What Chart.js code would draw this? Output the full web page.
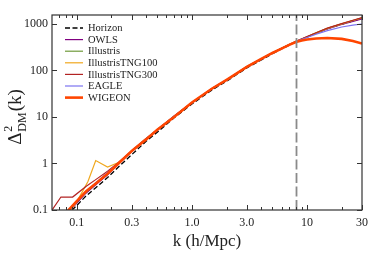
<!DOCTYPE html>
<html>
<head>
<meta charset="utf-8">
<script src="https://cdn.jsdelivr.net/npm/chart.js@4.4.0/dist/chart.umd.min.js"></script>
<style>
  html, body { margin: 0; padding: 0; background: #fff; }
</style>
</head>
<body>
<canvas id="powerChart" width="374" height="257"></canvas>
<script>
// k grid shared by most runs (h/Mpc)
const kGrid = [0.07, 0.085, 0.1, 0.12, 0.146, 0.185, 0.23, 0.3, 0.4, 0.5, 0.7, 1.0, 1.5, 2.0, 3.0, 4.0, 5.0, 6.0, 7.0, 8.0, 9.0, 10, 12, 15, 20, 25, 30];

const horizon  = [0.04, 0.085, 0.125, 0.2, 0.3, 0.5, 0.84, 1.55, 3.0, 4.7, 9.6, 19, 38.5, 59, 114, 168, 229, 290, 350, 412, 468, 522, 632, 790, 990, 1165, 1320];
const owls     = [0.05, 0.09, 0.14, 0.23, 0.35, 0.57, 0.98, 1.8, 3.3, 5.2, 10.2, 20, 41, 62, 119, 175, 236, 296, 356, 418, 472, 526, 632, 785, 975, 1140, 1290];
const illustris = [0.055, 0.1, 0.15, 0.24, 0.37, 0.63, 1.0, 1.85, 3.4, 5.3, 10.4, 20.3, 41, 62, 121, 177, 239, 300, 360, 421, 477, 532, 645, 805, 1005, 1190, 1345];
const eagle    = [0.05, 0.095, 0.15, 0.245, 0.38, 0.64, 1.02, 1.85, 3.4, 5.3, 10.4, 20.2, 41, 62, 120, 176, 237, 297, 356, 416, 466, 512, 600, 720, 860, 945, 1000];
const wigeon   = [0.06, 0.1, 0.155, 0.25, 0.37, 0.6, 1.0, 1.85, 3.3, 5.3, 10.0, 20.5, 41, 63, 119, 177, 238, 296, 356, 410, 440, 462, 488, 500, 478, 430, 380];

// TNG runs have their own low-k bins
const tng100K = [0.085, 0.1, 0.125, 0.146, 0.185, 0.23, 0.3, 0.4, 0.5, 0.7, 1.0, 1.5, 2.0, 3.0, 4.0, 5.0, 6.0, 7.0, 8.0, 9.0, 10, 12, 15, 20, 25, 30];
const tng100   = [0.085, 0.15, 0.41, 1.16, 0.84, 1.05, 1.85, 3.4, 5.3, 10.4, 20.2, 41, 62, 121, 177, 239, 300, 360, 421, 477, 532, 645, 805, 1005, 1190, 1350];
const tng300K = [0.061, 0.0728, 0.092, 0.12, 0.146, 0.185, 0.23, 0.3, 0.4, 0.5, 0.7, 1.0, 1.5, 2.0, 3.0, 4.0, 5.0, 6.0, 7.0, 8.0, 9.0, 10, 12, 15, 20, 25, 30];
const tng300   = [0.1, 0.19, 0.19, 0.32, 0.45, 0.68, 1.05, 1.85, 3.45, 5.3, 10.5, 20.5, 41.5, 63, 122, 178, 240, 302, 363, 424, 480, 536, 650, 812, 1015, 1200, 1365];

const kCut = 8;

const xTicks = [0.1, 0.3, 1, 3, 10, 30];
const xTickLabels = ["0.1", "0.3", "1.0", "3.0", "10", "30"];
const xMinor = [0.07, 0.08, 0.09, 0.2, 0.4, 0.5, 0.6, 0.7, 0.8, 0.9, 2, 4, 5, 6, 7, 8, 9, 20];
const yTicks = [0.1, 1, 10, 100, 1000];
const yTickLabels = ["0.1", "1", "10", "100", "1000"];

const FONT = '"Liberation Serif", "DejaVu Serif", serif';

const pts = (ks, vs) => ks.map((k, i) => ({ x: k, y: vs[i] }));

const series = [
  { label: "Horizon", data: pts(kGrid, horizon), color: "#000000", width: 1.3, dash: [5, 2.5] },
  { label: "OWLS", data: pts(kGrid, owls), color: "#800080", width: 1.2 },
  { label: "Illustris", data: pts(kGrid, illustris), color: "#6f9a3a", width: 1.2 },
  { label: "IllustrisTNG100", data: pts(tng100K, tng100), color: "#f0a81e", width: 1.2 },
  { label: "IllustrisTNG300", data: pts(tng300K, tng300), color: "#b22222", width: 1.2 },
  { label: "EAGLE", data: pts(kGrid, eagle), color: "#7b72f0", width: 1.2 },
  { label: "WIGEON", data: pts(kGrid, wigeon), color: "#ff4500", width: 2.6 },
];

const framePlugin = {
  id: "frame",
  afterDatasetsDraw(chart) {
    const { ctx, chartArea: a, scales: { x } } = chart;
    const xc = Math.round(x.getPixelForValue(kCut)) + 0.5;
    ctx.save();
    ctx.strokeStyle = "#8a8a8a";
    ctx.lineWidth = 1.8;
    ctx.setLineDash([10, 3.5]);
    ctx.beginPath();
    ctx.moveTo(xc, a.bottom);
    ctx.lineTo(xc, a.top);
    ctx.stroke();
    ctx.restore();
  },
  afterDraw(chart) {
    const { ctx, chartArea: a, scales: { x, y } } = chart;
    ctx.save();
    ctx.strokeStyle = "#333";
    ctx.lineWidth = 1.2;
    ctx.strokeRect(a.left, a.top, a.right - a.left, a.bottom - a.top);

    ctx.lineWidth = 1;
    ctx.beginPath();
    const vtick = (v, len) => {
      const px = Math.round(x.getPixelForValue(v)) + 0.5;
      ctx.moveTo(px, a.bottom); ctx.lineTo(px, a.bottom - len);
      ctx.moveTo(px, a.top); ctx.lineTo(px, a.top + len);
    };
    xTicks.forEach(v => vtick(v, 5));
    xMinor.forEach(v => vtick(v, 3));
    yTicks.forEach(v => {
      const py = Math.round(y.getPixelForValue(v)) + 0.5;
      ctx.moveTo(a.left, py); ctx.lineTo(a.left + 5, py);
      ctx.moveTo(a.right, py); ctx.lineTo(a.right - 5, py);
    });
    ctx.stroke();

    // legend inside the plot
    ctx.textBaseline = "middle";
    ctx.textAlign = "left";
    ctx.font = "10.5px " + FONT;
    chart.data.datasets.forEach((ds, i) => {
      const ly = 28 + i * 11.6;
      ctx.strokeStyle = ds.borderColor;
      ctx.lineWidth = ds.borderWidth;
      ctx.setLineDash(ds.borderDash || []);
      ctx.beginPath();
      ctx.moveTo(65, ly);
      ctx.lineTo(83, ly);
      ctx.stroke();
      ctx.fillStyle = "#222";
      ctx.fillText(ds.label, 88, ly + 0.5);
    });
    ctx.setLineDash([]);

    // axis titles
    ctx.fillStyle = "#222";
    ctx.textAlign = "center";
    ctx.textBaseline = "alphabetic";
    ctx.font = "17px " + FONT;
    ctx.fillText("k (h/Mpc)", (a.left + a.right) / 2, 246);

    ctx.textAlign = "left";
    ctx.font = "19px " + FONT;
    const wD = ctx.measureText("Δ").width;
    const wK = ctx.measureText("(k)").width;
    ctx.font = "12px " + FONT;
    const wS = ctx.measureText("DM").width;
    const total = wD + 1 + wS + 1 + wK;
    ctx.translate(21, 117 + total / 2);
    ctx.rotate(-Math.PI / 2);
    ctx.font = "19px " + FONT;
    ctx.fillText("Δ", 0, 0);
    ctx.fillText("(k)", wD + 2 + wS, 0);
    ctx.font = "12px " + FONT;
    ctx.fillText("2", wD + 1, -9);
    ctx.fillText("DM", wD + 1, 5);
    ctx.restore();
  }
};

new Chart(document.getElementById("powerChart"), {
  type: "line",
  data: {
    datasets: series.map((s, i) => ({
      label: s.label,
      data: s.data,
      borderColor: s.color,
      backgroundColor: s.color,
      borderWidth: s.width,
      borderDash: s.dash || [],
      pointRadius: 0,
      tension: 0,
      fill: false,
      clip: 0,
      order: series.length - i,
    })),
  },
  options: {
    responsive: false,
    devicePixelRatio: 1,
    animation: false,
    layout: { padding: { top: 15, right: 10, left: 0, bottom: 0 } },
    plugins: { legend: { display: false }, tooltip: { enabled: false } },
    scales: {
      x: {
        type: "logarithmic",
        min: 0.0609,
        max: 30,
        grid: { display: false, drawTicks: false },
        border: { display: false },
        afterBuildTicks: (s) => { s.ticks = xTicks.map(v => ({ value: v })); },
        afterFit: (s) => { s.height = 47; },
        ticks: {
          autoSkip: false,
          maxRotation: 0,
          padding: 6,
          color: "#222",
          font: { family: FONT, size: 12 },
          callback: (v, i) => xTickLabels[i],
        },
      },
      y: {
        type: "logarithmic",
        min: 0.1,
        max: 1560,
        grid: { display: false, drawTicks: false },
        border: { display: false },
        afterBuildTicks: (s) => { s.ticks = yTicks.map(v => ({ value: v })); },
        afterFit: (s) => { s.width = 52; },
        ticks: {
          autoSkip: false,
          padding: 4,
          color: "#222",
          font: { family: FONT, size: 12 },
          callback: (v, i) => yTickLabels[i],
        },
      },
    },
  },
  plugins: [framePlugin],
});
</script>
</body>
</html>
